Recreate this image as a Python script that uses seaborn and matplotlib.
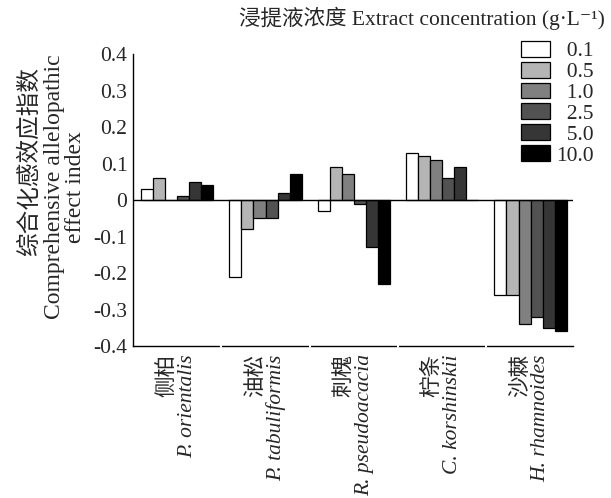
import numpy as np
import pandas as pd
import seaborn as sns
import matplotlib.pyplot as plt

# 数据
species_cn = ['侧柏', '油松', '刺槐', '柠条', '沙棘']
species_la = ['P. orientalis', 'P. tabuliformis', 'R. pseudoacacia', 'C. korshinskii', 'H. rhamnoides']
conc_labels = ['0.1', '0.5', '1.0', '2.5', '5.0', '10.0']
v_01 = [0.03, -0.21, -0.03, 0.13, -0.26]
v_05 = [0.06, -0.08, 0.09, 0.12, -0.26]
v_10 = [0.00, -0.05, 0.07, 0.11, -0.34]
v_25 = [0.01, -0.05, -0.01, 0.06, -0.32]
v_50 = [0.05, 0.02, -0.13, 0.09, -0.35]
v_100 = [0.04, 0.07, -0.23, 0.00, -0.36]
yticks = [-0.4, -0.3, -0.2, -0.1, 0, 0.1, 0.2, 0.3, 0.4]
ytick_labels = ['-0.4', '-0.3', '-0.2', '-0.1', '0', '0.1', '0.2', '0.3', '0.4']

colors = ['#ffffff', '#b5b5b5', '#808080', '#525252', '#363636', '#000000']

sns.set_style('white')
plt.rcParams['font.family'] = ['Liberation Serif', 'Noto Sans CJK SC', 'DejaVu Sans']

rows = []
for lab, vals in zip(conc_labels, [v_01, v_05, v_10, v_25, v_50, v_100]):
  for sp, v in zip(species_cn, vals):
    rows.append({'species': sp, 'conc': lab, 'value': v})
df = pd.DataFrame(rows)

fig = plt.figure(figsize=(6.11, 4.98), dpi=100)
ax = fig.add_axes([133/611, 1-346/498, 440/611, 292/498])

sns.barplot(data=df, x='species', y='value', hue='conc', order=species_cn, hue_order=conc_labels,
            palette=colors, edgecolor='black', linewidth=0.9, width=0.82, gap=0,
            errorbar=None, saturation=1, ax=ax)

handles, labels = ax.get_legend_handles_labels()
ax.get_legend().remove()

ax.axhline(0, color='black', lw=1, zorder=3)
ax.set_xlim(-0.5, 4.48)
ax.set_ylim(-0.4, 0.4)
ax.set_yticks(yticks)
ax.set_yticklabels(ytick_labels)
ax.set_xticks([0, 1, 2, 3, 4, 4.48])
ax.set_xticklabels([''] * 6)
ax.tick_params(axis='both', direction='in', length=4.5, width=0.9, labelsize=15.5, color='black')
ax.tick_params(axis='y', pad=4)
ax.set_xlabel('')
ax.set_ylabel('')
for s in ['top', 'right']:
  ax.spines[s].set_visible(False)
for s in ['left', 'bottom']:
  ax.spines[s].set_linewidth(1)
  ax.spines[s].set_color('black')

# 组间的小缺口
for b in [0.5, 1.5, 2.5, 3.5]:
  ax.axvline(b, ymin=-0.005, ymax=0.005, color='white', lw=1.5, zorder=4, clip_on=False)

# x轴标签
for i, (cn, la) in enumerate(zip(species_cn, species_la)):
  ax.annotate(cn, xy=(i, 0), xycoords=('data', 'axes fraction'), xytext=(-7, -6),
              textcoords='offset points', rotation=90, ha='center', va='top', fontsize=15.5)
  ax.annotate(la, xy=(i, 0), xycoords=('data', 'axes fraction'), xytext=(7.5, -6),
              textcoords='offset points', rotation=90, ha='center', va='top', fontsize=15.5,
              style='italic')

# y轴标签
fig.text(30/611, 1-161/498, '综合化感效应指数', rotation=90, ha='center', va='center', fontsize=17)
fig.text(65/611, 1-187/498, 'Comprehensive allelopathic\neffect index', rotation=90,
         ha='center', va='center', ma='center', fontsize=17, linespacing=1.05)

# 图例
fig.text(605/611, 1-18/498, '浸提液浓度 Extract concentration (g·L⁻¹)', ha='right', va='center',
         fontsize=15.5)
leg = fig.legend(handles, [' ' * 2 + l if len(l) < 4 else l for l in labels],
                 loc='upper right', bbox_to_anchor=(594/611, 1-41/498), frameon=False,
                 fontsize=15.5, handlelength=1.35, handleheight=0.75,
                 handletextpad=0.3, labelspacing=0.02, borderpad=0, borderaxespad=0)

plt.savefig('out.png', dpi=100)
